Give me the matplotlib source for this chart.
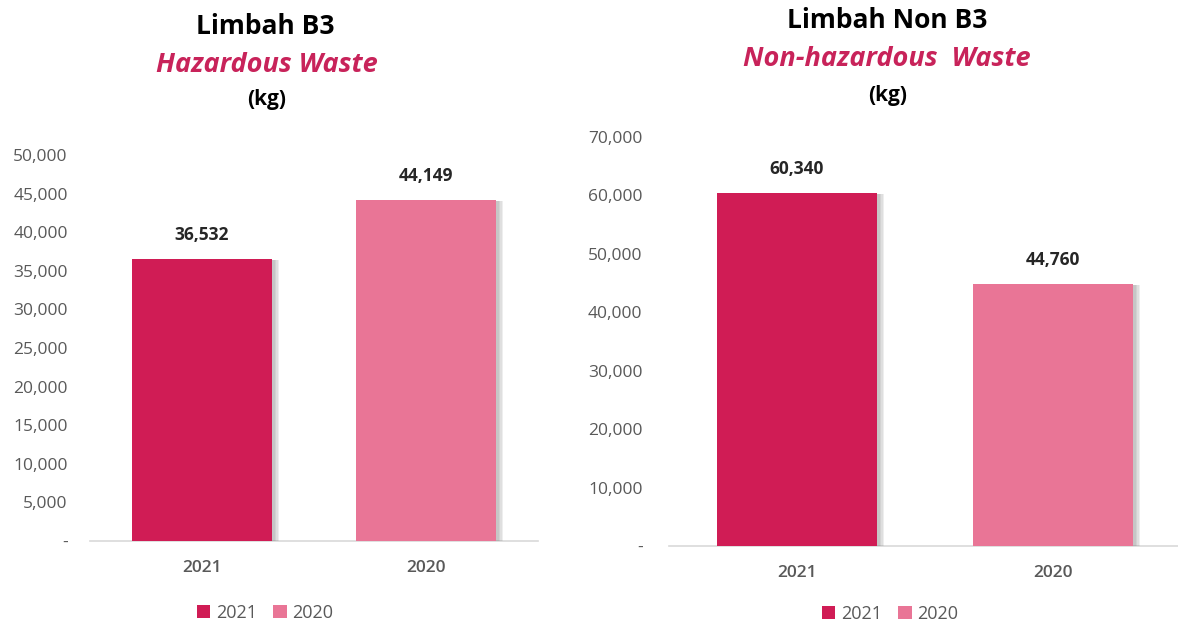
import matplotlib
matplotlib.use("Agg")
import matplotlib.pyplot as plt
import matplotlib.patheffects as pe
from matplotlib.patches import Patch
from matplotlib.ticker import FuncFormatter

plt.rcParams['font.family'] = ['Open Sans', 'DejaVu Sans']

categories = ["2021", "2020"]
b3_values = [36532, 44149]
nonb3_values = [60340, 44760]
b3_ticks = [0, 5000, 10000, 15000, 20000, 25000, 30000, 35000, 40000, 45000, 50000]
nonb3_ticks = [0, 10000, 20000, 30000, 40000, 50000, 60000, 70000]
colors = ["#D01C55", "#E97596"]
TXT = "#595959"

W, H = 1178, 625
fig = plt.figure(figsize=(W / 100, H / 100), dpi=100)

def fx(x):
    return x / W

def fy(y):
    return 1 - y / H

def fmt(v, pos):
    return "-" if v == 0 else f"{int(v):,}"

shadow = [pe.SimplePatchShadow(offset=(k, -0.5), shadow_rgbFace="#777777", alpha=0.12) for k in (5, 4, 3, 2)]

def draw(ax, values, ticks, ymax, xmax, ypad):
    xs = range(len(categories))
    bars = ax.bar(xs, values, width=0.625, color=colors, zorder=3)
    for b in bars:
        b.set_path_effects(shadow + [pe.Normal()])
    ax.set_xlim(-0.5, xmax)
    ax.set_ylim(0, ymax)
    ax.set_yticks(ticks)
    ax.yaxis.set_major_formatter(FuncFormatter(fmt))
    ax.set_xticks(list(xs))
    ax.set_xticklabels(categories, fontsize=12.5, color=TXT, fontweight="semibold")
    for lab in ax.get_yticklabels():
        lab.set_fontsize(12.5)
        lab.set_color(TXT)
    ax.tick_params(length=0)
    ax.tick_params(axis="y", pad=ypad)
    ax.tick_params(axis="x", pad=14)
    for s in ["left", "right", "top"]:
        ax.spines[s].set_visible(False)
    ax.spines["bottom"].set_color("#D9D9D9")
    ax.spines["bottom"].set_linewidth(1.2)
    ax.set_facecolor("none")
    for x, v in zip(xs, values):
        ax.annotate(f"{v:,}", (x, v), xytext=(0, 11), textcoords="offset points",
                    ha="center", va="bottom", fontsize=12.5, fontweight="bold", color="#262626")

# Left chart
ax1 = fig.add_axes([fx(90), fy(541), fx(448), (541 - 155) / H])
draw(ax1, b3_values, b3_ticks, 50000, 1.5, 16)

# Right chart
ax2 = fig.add_axes([fx(669), fy(546), fx(509), (546 - 137) / H])
draw(ax2, nonb3_values, nonb3_ticks, 70000, -0.5 + 509 / 256, 19)

# Titles
fig.text(fx(265), fy(26), "Limbah B3", ha="center", va="center", fontsize=19, fontweight="bold", color="black")
fig.text(fx(267), fy(65), "Hazardous Waste", ha="center", va="center", fontsize=19.5, fontweight="bold",
         fontstyle="italic", color="#C8235A")
fig.text(fx(267), fy(100), "(kg)", ha="center", va="center", fontsize=15, fontweight="bold", color="black")

fig.text(fx(887), fy(21), "Limbah Non B3", ha="center", va="center", fontsize=19, fontweight="bold", color="black")
fig.text(fx(887), fy(59), "Non-hazardous  Waste", ha="center", va="center", fontsize=19.5, fontweight="bold",
         fontstyle="italic", color="#C8235A")
fig.text(fx(888), fy(95), "(kg)", ha="center", va="center", fontsize=15, fontweight="bold", color="black")

# Legends
handles = [Patch(facecolor=c, edgecolor="none", label=l) for c, l in zip(colors, categories)]
for cx, cy in [(265, 613), (890, 614)]:
    fig.legend(handles=handles, loc="center", bbox_to_anchor=(fx(cx), fy(cy)), ncol=2, frameon=False,
               fontsize=13, handlelength=0.75, handleheight=0.75, handletextpad=0.3, columnspacing=0.9,
               labelcolor=TXT, borderpad=0.1)

fig.savefig("out.png", dpi=100, facecolor="white")
